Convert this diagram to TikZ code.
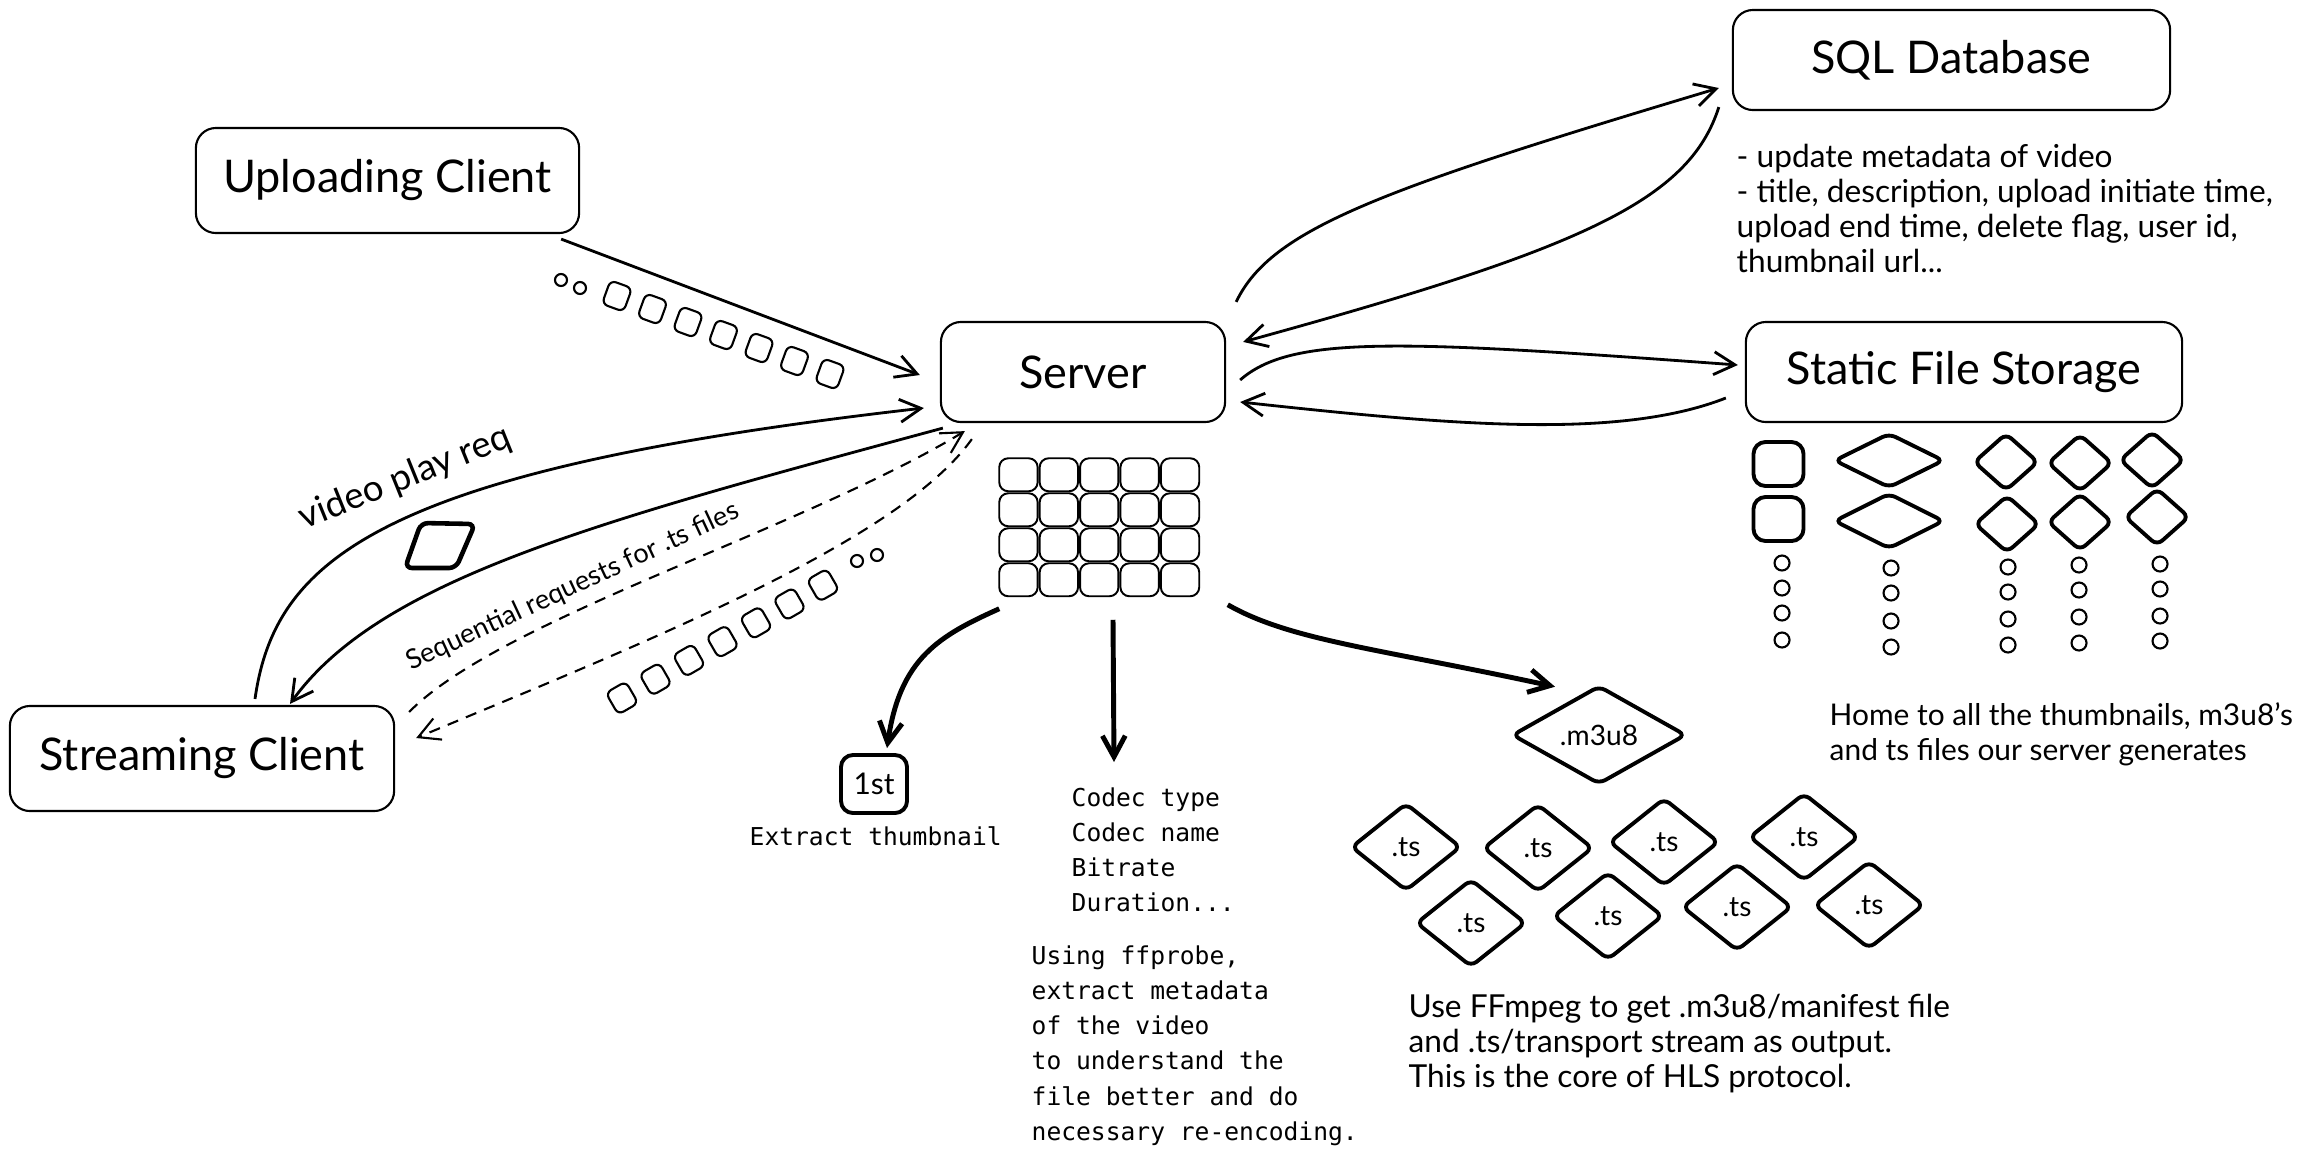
\documentclass[tikz,border=0pt]{standalone}
\usepackage{fontspec}
\setmainfont{Lato}
\newfontfamily\monof{DejaVu Sans Mono}
\usetikzlibrary{arrows.meta,shapes.geometric,calc}
\begin{document}
\begin{tikzpicture}[x=0.01cm,y=-0.01cm,
  box/.style={draw, rounded corners=2mm, line width=0.6pt, inner sep=0pt,
    font=\fontsize{12.8}{15}\selectfont},
  conn/.style={line width=0.8pt, -{Straight Barb[length=6pt,width=6.5pt]}},
  bold/.style={line width=1.4pt, -{Straight Barb[length=6pt,width=6.5pt]}},
  dconn/.style={line width=0.6pt, dash pattern=on 3.2pt off 2.4pt, -{Straight Barb[length=6pt,width=6.5pt]}},
  icon/.style={draw, line width=1.1pt, rounded corners=0.7mm, inner sep=0pt},
  dia/.style={icon, diamond, font=\fontsize{8}{9}\selectfont},
  cell/.style={draw, line width=0.55pt, rounded corners=0.9mm},
  dot/.style={draw, line width=0.6pt},
  packet/.style={draw, line width=0.6pt, rounded corners=0.6mm},
  note/.style={font=\fontsize{9}{10}\selectfont, align=left, anchor=north west, inner sep=0pt},
  mnote/.style={font=\monof\fontsize{7}{10}\selectfont, align=left, anchor=north west, inner sep=0pt}
]
\useasboundingbox (0,0) rectangle (2316,1160);

% main boxes
\node[box, minimum width=3.83cm, minimum height=1.05cm] (up) at (387.5,180.5) {Uploading Client};
\node[box, minimum width=2.84cm, minimum height=1.0cm] (srv) at (1083,372) {Server};
\node[box, minimum width=4.37cm, minimum height=1.0cm] (sql) at (1951.5,60) {SQL Database};
\node[box, minimum width=4.36cm, minimum height=1.0cm] (sfs) at (1964,372) {Static File Storage};
\node[box, minimum width=3.84cm, minimum height=1.05cm] (stc) at (202,758.5) {Streaming Client};

% notes
\node[note] (sqlnote) at (1736,143) {- update metadata of video\\- title, description, upload initiate time,\\upload end time, delete flag, user id,\\thumbnail url...};
\node[note, font=\fontsize{8.5}{10}\selectfont] (home) at (1829,702) {Home to all the thumbnails, m3u8's\\and ts files our server generates};
\node[note] (ffm) at (1408,993) {Use FFmpeg to get .m3u8/manifest file\\and .ts/transport stream as output.\\This is the core of HLS protocol.};
\node[mnote] (codec) at (1071,787) {Codec type\\Codec name\\Bitrate\\Duration...};
\node[mnote] (probe) at (1031,945) {Using ffprobe,\\extract metadata\\of the video\\to understand the\\file better and do\\necessary re-encoding.};
\node[mnote] (thumb) at (749,826) {Extract thumbnail};

% labels on connectors
\node[font=\fontsize{10.4}{12}\selectfont, rotate=22] (vpr) at (405,478) {video play req};
\node[font=\fontsize{7.7}{9}\selectfont, rotate=25] (seq) at (573,587) {Sequential requests for .ts files};

% thumbnail box
\node[icon, rounded corners=1.2mm, minimum width=0.66cm, minimum height=0.58cm, font=\fontsize{8.5}{10}\selectfont] (first) at (874,784) {1st};

% brick grid (frames of the video)
\node[minimum width=2.02cm, minimum height=1.40cm, inner sep=0pt] (grid) at (1100,528) {};
\foreach \i in {0,...,4}{
  \foreach \j in {0,...,3}{
    \draw[cell] ($(grid.north west)+(\i*40.4+1,\j*35+1)$) rectangle +(38.4,33);
  }
}

% m3u8 and ts diamonds
\node[dia, minimum width=1.74cm, minimum height=0.8cm] (m3u8) at (1599,735) {.m3u8};
\foreach \n/\x/\y in {t1/1406/847, t2/1538/848, t3/1664/842, t4/1804/837,
                      t5/1471/923, t6/1608/916, t7/1737/907, t8/1869/905}{
  \node[dia, minimum width=1.1cm, minimum height=0.88cm] (\n) at (\x,\y) {.ts};
}

% static storage icons
\node[icon, rounded corners=1.2mm, minimum width=0.5cm, minimum height=0.44cm] (sq1) at (1778.5,464) {};
\node[icon, rounded corners=1.2mm, minimum width=0.5cm, minimum height=0.44cm] (sq2) at (1778.5,519) {};
\node[icon, diamond, minimum width=1.10cm, minimum height=0.55cm] (wd1) at (1889,460.5) {};
\node[icon, diamond, minimum width=1.10cm, minimum height=0.56cm] (wd2) at (1889,521) {};
\foreach \n/\x/\y in {sd1/2006/462, sd2/2080/463, sd3/2152/460, sd4/2007/524, sd5/2080/522, sd6/2157/517}{
  \node[icon, diamond, minimum width=0.65cm, minimum height=0.58cm] (\n) at (\x,\y) {};
}
\foreach \x/\a/\b/\c/\d in {1782/563/588/613/640, 1891/568/593/621/647, 2008/567/592/619/645,
                            2079/565/590/617/643, 2160/564/589/616/641}{
  \foreach \y in {\a,\b,\c,\d}{ \draw[dot] (\x,\y) circle[radius=7.5]; }
}

% upload packets
\draw[dot] (561,280) circle[radius=6];
\draw[dot] (580,288) circle[radius=6];
\foreach \k in {0,...,6}{
  \pgfmathsetmacro\px{617+\k*35.5}
  \pgfmathsetmacro\py{296+\k*13}
  \draw[packet, rotate around={-20:(\px,\py)}] (\px-11.5,\py-12.5) rectangle (\px+11.5,\py+12.5);
}
% streaming packets
\foreach \k in {0,...,6}{
  \pgfmathsetmacro\px{622+\k*33.5}
  \pgfmathsetmacro\py{698-\k*18.8}
  \draw[packet, rotate around={30:(\px,\py)}] (\px-11.5,\py-12.5) rectangle (\px+11.5,\py+12.5);
}
\draw[dot] (857,561) circle[radius=6];
\draw[dot] (877,555) circle[radius=6];

% video icon
\draw[icon, line width=1.3pt] (421,523) -- (475,524) -- (456,568) -- (405,568) -- cycle;

% connectors
\draw[conn] ($(up.south east)+(-19,5)$) -- ($(srv.west)+(-20,3)$);
\draw[conn] ($(stc.north)+(53,-6)$) .. controls +(20,-140) and +(-545,62) .. ($(srv.west)+(-16,36)$);
\draw[conn] ($(srv.south west)+(3,5)$) .. controls +(-344,93) and +(90,-125) .. ($(stc.north)+(88,-1)$);
\draw[dconn] ($(stc.north east)+(14,7)$) .. controls +(92,-93) and +(-166,100) .. ($(srv.south west)+(25,8)$);
\draw[dconn] ($(srv.south west)+(32,16)$) .. controls +(-73,102) and +(235,-98) .. ($(stc.east)+(21,-20.5)$);

\draw[conn] ($(srv.north east)+(10,-19)$) .. controls +(35,-73) and +(-340,102) .. ($(sql.west)+(-13,28)$);
\draw[conn] ($(sql.south west)+(-13,-4)$) .. controls +(-30,94) and +(338,-93) .. ($(srv.north east)+(17,21)$);
\draw[conn] ($(srv.east)+(14,8)$) .. controls +(51,-45) and +(-339,-25) .. ($(sfs.west)+(-7,-7)$);
\draw[conn] ($(sfs.west)+(-19,26)$) .. controls +(-107,42) and +(211,23) .. ($(srv.east)+(14,30)$);

\draw[bold] ($(grid.south west)+(1,10)$) .. controls +(-60,27) and +(13,-90) .. ($(first.north)+(13,-5)$);
\draw[bold] ($(grid.south)+(13,21)$) -- ($(codec.north west)+(43,-25)$);
\draw[bold] ($(grid.south east)+(26,6)$) .. controls +(63,36) and +(-175,-38) .. ($(m3u8.north)+(-44,3)$);
\end{tikzpicture}
\end{document}
